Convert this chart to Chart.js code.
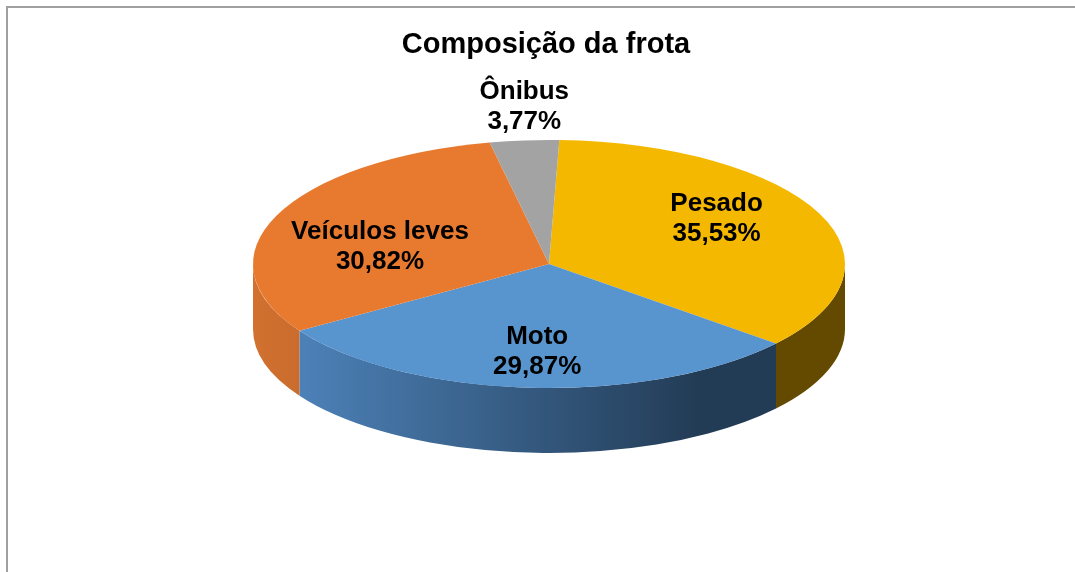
<!DOCTYPE html>
<html>
<head>
    <meta charset="utf-8">
    <title>Composição da frota</title>
    <script src="https://cdn.jsdelivr.net/npm/chart.js"></script>
    <style>
        html, body { margin: 0; padding: 0; background: #fff; }
        #frota { display: block; }
    </style>
</head>
<body>
    <canvas id="frota" width="1075" height="572"></canvas>

    <script>
        // dados da frota (%)
        const categorias = ['Pesado', 'Moto', 'Veículos leves', 'Ônibus'];
        const percentuais = [35.53, 29.87, 30.82, 3.77];

        // cores: face de cima e lateral (claro -> escuro)
        const coresTopo = ['#F5B800', '#5894CE', '#E87A30', '#A3A3A3'];
        const coresLado = [
            ['#B88A00', '#634A00'],
            ['#5189C3', '#233C56'],
            ['#D27130', '#7C3F12'],
            ['#8C8C8C', '#555555']
        ];

        // geometria do "3D": centro da elipse, achatamento e espessura
        const CX = 549, CY = 264;
        const RAIO = 296, RAIO_Y = 124, ESPESSURA = 65;

        // posição dos rótulos (fração do raio e ajuste vertical)
        const rotuloRaio = [0.62, 0.62, 0.62, 1.0];
        const rotuloAjusteY = [-16, 9, 10, -36];

        const fonte = 'Liberation Sans, Arial, sans-serif';

        function fmtPct(v) {
            return v.toFixed(2).replace('.', ',') + '%';
        }

        // desenha a borda da área do gráfico e as laterais do disco
        const pizza3d = {
            id: 'pizza3d',
            beforeDraw(chart) {
                const ctx = chart.ctx;
                ctx.save();
                ctx.fillStyle = '#fff';
                ctx.fillRect(0, 0, chart.width, chart.height);
                ctx.fillStyle = '#A0A0A0';
                ctx.fillRect(6, 6, chart.width, 2);
                ctx.fillRect(6, 6, 2, chart.height);
                ctx.restore();
            },
            beforeDatasetsDraw(chart) {
                const ctx = chart.ctx;
                const arcs = chart.getDatasetMeta(0).data;
                const rx = arcs[0].outerRadius;

                ctx.save();
                arcs.forEach((arc, i) => {
                    // só a metade da frente (0..PI) aparece
                    let a0 = arc.startAngle, a1 = arc.endAngle;
                    const partes = [];
                    for (let k = -1; k <= 1; k++) {
                        const lo = Math.max(a0, k * 2 * Math.PI);
                        const hi = Math.min(a1, k * 2 * Math.PI + Math.PI);
                        if (hi > lo) partes.push([lo, hi]);
                    }
                    const grad = ctx.createLinearGradient(CX - rx, 0, CX + rx, 0);
                    grad.addColorStop(0, coresLado[i][0]);
                    grad.addColorStop(0.75, coresLado[i][1]);
                    grad.addColorStop(1, coresLado[i][1]);
                    partes.forEach(([lo, hi]) => {
                        ctx.beginPath();
                        ctx.ellipse(CX, CY, rx, RAIO_Y, 0, lo, hi, false);
                        ctx.ellipse(CX, CY + ESPESSURA, rx, RAIO_Y, 0, hi, lo, true);
                        ctx.closePath();
                        ctx.fillStyle = grad;
                        ctx.fill();
                    });
                });
                ctx.restore();

                // achata a face de cima
                const c = arcs[0];
                ctx.save();
                ctx.translate(CX, CY);
                ctx.scale(1, RAIO_Y / rx);
                ctx.translate(-c.x, -c.y);
            },
            afterDatasetsDraw(chart) {
                chart.ctx.restore();
            },
            afterDraw(chart) {
                const ctx = chart.ctx;
                const arcs = chart.getDatasetMeta(0).data;
                ctx.save();
                ctx.fillStyle = '#000';
                ctx.textAlign = 'center';
                ctx.textBaseline = 'alphabetic';
                ctx.font = 'bold 26px ' + fonte;
                arcs.forEach((arc, i) => {
                    const meio = (arc.startAngle + arc.endAngle) / 2;
                    const f = rotuloRaio[i];
                    const x = CX + arc.outerRadius * f * Math.cos(meio);
                    const y = CY + RAIO_Y * f * Math.sin(meio) + rotuloAjusteY[i];
                    ctx.fillText(categorias[i], x, y - 5.5);
                    ctx.fillText(fmtPct(percentuais[i]), x, y + 24.5);
                });
                ctx.restore();
            }
        };

        const ctx = document.getElementById('frota').getContext('2d');
        const grafico = new Chart(ctx, {
            type: 'pie',
            data: {
                labels: categorias,
                datasets: [{
                    data: percentuais,
                    backgroundColor: coresTopo,
                    borderWidth: 0,
                    clip: false
                }]
            },
            options: {
                responsive: false,
                animation: false,
                events: [],
                rotation: 2,
                radius: RAIO,
                layout: { padding: { left: 17, right: 0, top: 0, bottom: 0 } },
                plugins: {
                    legend: { display: false },
                    tooltip: { enabled: false },
                    title: {
                        display: true,
                        text: 'Composição da frota',
                        color: '#000',
                        font: { family: fonte, size: 29, weight: 'bold' },
                        padding: { top: 28, bottom: 0 }
                    }
                }
            },
            plugins: [pizza3d]
        });
    </script>
</body>
</html>
